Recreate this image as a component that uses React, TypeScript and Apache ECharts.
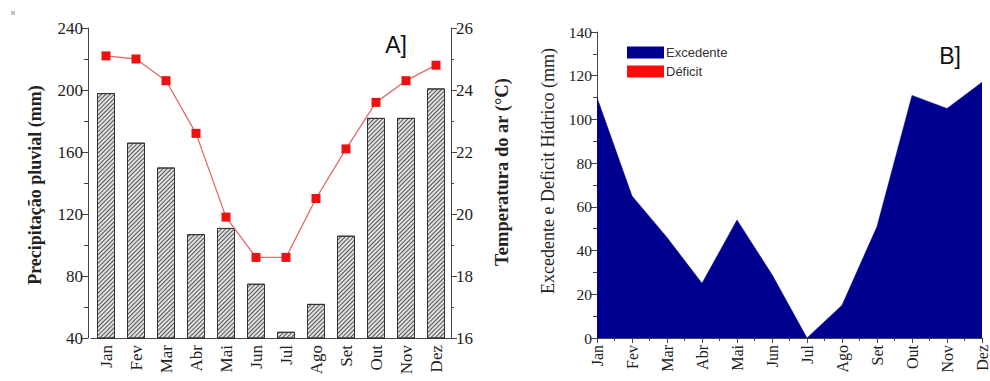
import React, { useEffect, useRef } from "react";
import * as echarts from "echarts";

const months = ["Jan", "Fev", "Mar", "Abr", "Mai", "Jun", "Jul", "Ago", "Set", "Out", "Nov", "Dez"];
const precipitation = [198, 166, 150, 107, 111, 75, 44, 62, 106, 182, 182, 201];
const temperature = [25.1, 25.0, 24.3, 22.6, 19.9, 18.6, 18.6, 20.5, 22.1, 23.6, 24.3, 24.8];
const excedente = [110, 65, 46, 25, 54, 29, 0, 15, 51, 111, 105, 117];
const deficit = [0, 0, 0, 0, 0, 0, 0, 0, 0, 0, 0, 0];

const SERIF = "'Liberation Serif', 'Times New Roman', serif";
const SANS = "'Liberation Sans', Arial, sans-serif";
const AXIS = "#444";

export default function App() {
  const ref = useRef<HTMLDivElement>(null);
  useEffect(() => {
    const chart = echarts.init(ref.current!, null, { renderer: "svg" });
    chart.setOption({
      animation: false,
      backgroundColor: "#ffffff",
      grid: [
        { left: 91, top: 28, width: 360, height: 310 },
        { left: 597, top: 32, width: 391, height: 306 },
      ],
      legend: {
        data: ["Excedente", "Déficit"],
        orient: "vertical",
        left: 627,
        top: 46,
        padding: 0,
        itemWidth: 37,
        itemHeight: 12,
        itemGap: 6,
        icon: "rect",
        textStyle: { fontFamily: SANS, fontSize: 13, color: "#333", padding: [0, 0, 0, -3] },
      },
      xAxis: [
        {
          type: "category",
          gridIndex: 0,
          data: months,
          boundaryGap: true,
          axisLine: { lineStyle: { color: AXIS } },
          axisTick: { alignWithLabel: true, length: 5, lineStyle: { color: AXIS } },
          axisLabel: { rotate: 90, fontFamily: SERIF, fontSize: 17, color: "#222", margin: 7 },
        },
        {
          type: "category",
          gridIndex: 1,
          data: months,
          boundaryGap: false,
          axisLine: { lineStyle: { color: AXIS } },
          axisTick: { length: 5, lineStyle: { color: AXIS } },
          axisLabel: { rotate: 90, fontFamily: SERIF, fontSize: 16, color: "#222", margin: 7 },
        },
        {
          type: "value",
          gridIndex: 1,
          position: "bottom",
          min: 0,
          max: 22,
          interval: 1,
          axisLine: { show: false },
          axisTick: { length: 3, lineStyle: { color: AXIS } },
          axisLabel: { show: false },
          splitLine: { show: false },
        },
      ],
      yAxis: [
        {
          type: "value",
          gridIndex: 0,
          min: 40,
          max: 240,
          interval: 40,
          offset: 3,
          axisLine: { show: true, lineStyle: { color: AXIS } },
          axisTick: { show: true, length: 6, lineStyle: { color: AXIS } },
          minorTick: { show: true, splitNumber: 2, length: 4, lineStyle: { color: AXIS } },
          splitLine: { show: false },
          axisLabel: { fontFamily: SERIF, fontSize: 17, color: "#222", margin: 5 },
        },
        {
          type: "value",
          gridIndex: 0,
          position: "right",
          min: 16,
          max: 26,
          interval: 2,
          axisLine: { show: true, lineStyle: { color: AXIS } },
          axisTick: { show: true, length: 6, lineStyle: { color: AXIS } },
          minorTick: { show: true, splitNumber: 2, length: 3, lineStyle: { color: AXIS } },
          splitLine: { show: false },
          axisLabel: { fontFamily: SERIF, fontSize: 17, color: "#222", margin: 5 },
        },
        {
          type: "value",
          gridIndex: 1,
          min: 0,
          max: 140,
          interval: 20,
          axisLine: { show: true, lineStyle: { color: AXIS } },
          axisTick: { show: true, length: 6, lineStyle: { color: AXIS } },
          minorTick: { show: true, splitNumber: 2, length: 4, lineStyle: { color: AXIS } },
          splitLine: { show: false },
          axisLabel: { fontFamily: SERIF, fontSize: 15.5, color: "#222", margin: 5 },
        },
      ],
      series: [
        {
          name: "Precipitação pluvial",
          type: "bar",
          xAxisIndex: 0,
          yAxisIndex: 0,
          data: precipitation,
          barWidth: 18,
          itemStyle: {
            color: "#e0e0e0",
            borderColor: "#333",
            borderWidth: 1,
            decal: {
              symbol: "rect",
              symbolSize: 1,
              dashArrayX: [1, 0],
              dashArrayY: [1, 2],
              rotation: -Math.PI / 4,
              color: "#555",
            },
          },
        },
        {
          name: "Temperatura do ar",
          type: "line",
          xAxisIndex: 0,
          yAxisIndex: 1,
          data: temperature,
          symbol: "rect",
          symbolSize: 9,
          itemStyle: { color: "#ee1111" },
          lineStyle: { color: "#e06a6a", width: 1.3 },
          z: 5,
        },
        {
          name: "Excedente",
          type: "line",
          xAxisIndex: 1,
          yAxisIndex: 2,
          data: excedente,
          showSymbol: false,
          symbol: "none",
          itemStyle: { color: "#00008f" },
          lineStyle: { color: "#00008f", width: 0.5 },
          areaStyle: { color: "#00008f", opacity: 1 },
        },
        {
          name: "Déficit",
          type: "line",
          xAxisIndex: 1,
          yAxisIndex: 2,
          data: deficit,
          symbol: "none",
          itemStyle: { color: "#ff0a0a" },
          lineStyle: { width: 0 },
          areaStyle: { color: "#ff0a0a", opacity: 1 },
        },
      ],
      graphic: [
        { type: "rect", left: 11, top: 11, shape: { width: 4, height: 4 }, style: { fill: "#c4c4c4" } },
        {
          type: "text",
          x: 35,
          y: 185,
          rotation: Math.PI / 2,
          style: {
            text: "Precipitação pluvial (mm)",
            fontFamily: SERIF,
            fontWeight: "bold",
            fontSize: 18,
            fill: "#222",
            align: "center",
            verticalAlign: "middle",
          },
        },
        {
          type: "text",
          x: 502,
          y: 172,
          rotation: Math.PI / 2,
          style: {
            text: "Temperatura do ar (°C)",
            fontFamily: SERIF,
            fontWeight: "bold",
            fontSize: 18.5,
            fill: "#222",
            align: "center",
            verticalAlign: "middle",
          },
        },
        {
          type: "text",
          x: 548,
          y: 171,
          rotation: Math.PI / 2,
          style: {
            text: "Excedente e Deficit Hídrico (mm)",
            fontFamily: SERIF,
            fontSize: 18,
            fill: "#222",
            align: "center",
            verticalAlign: "middle",
          },
        },
        {
          type: "text",
          x: 396,
          y: 45,
          style: { text: "A]", fontFamily: SANS, fontSize: 23, fill: "#111", align: "center", verticalAlign: "middle" },
        },
        {
          type: "text",
          x: 950,
          y: 56,
          style: { text: "B]", fontFamily: SANS, fontSize: 23, fill: "#111", align: "center", verticalAlign: "middle" },
        },
      ],
    });
    return () => chart.dispose();
  }, []);
  return <div ref={ref} style={{ width: 990, height: 381, position: "absolute", left: 0, top: 0 }} />;
}
